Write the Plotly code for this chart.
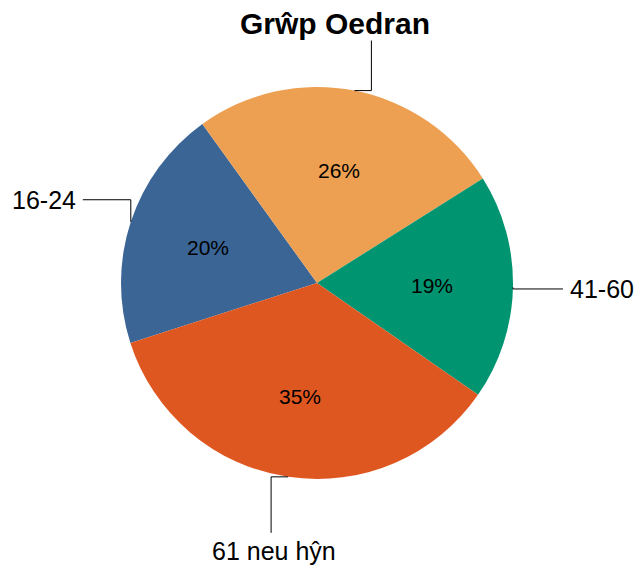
import math
import plotly.graph_objects as go

# ---- data ----
title_text = "Grŵp Oedran"
categories = ["16-24", "25-40", "41-60", "61 neu hŷn"]
values = [20.0, 26.0, 18.6, 35.4]
colors = ["#3A6595", "#EDA052", "#009470", "#DF5720"]
shown_outer_labels = [True, False, True, True]  # the 25-40 label is hidden in the reference

# ---- layout geometry (pixels, page coordinates of the window) ----
OFF = 8  # default page body margin
W, H = 644 - OFF, 569 - OFF
PLOT_L, PLOT_T, PLOT_SIZE = 121, 87, 392  # page coords of plot area
ML, MT = PLOT_L - OFF, PLOT_T - OFF
MR = W - ML - PLOT_SIZE
MB = H - MT - PLOT_SIZE
R = PLOT_SIZE / 2.0
CX = PLOT_L + R
CY = PLOT_T + R
START = 252.2  # start angle of first slice, degrees clockwise from 12 o'clock
FONT = "Liberation Sans, Arial, Helvetica, sans-serif"


def to_paper(px, py):
    # page pixel -> paper coords
    return (px - PLOT_L) / PLOT_SIZE, (PLOT_T + PLOT_SIZE - py) / PLOT_SIZE


fig = go.Figure(
    go.Pie(
        labels=categories,
        values=values,
        sort=False,
        direction="clockwise",
        rotation=START,
        marker=dict(colors=colors, line=dict(width=0)),
        textinfo="none",
        hoverinfo="label+percent",
        showlegend=False,
    )
)

annotations = []
shapes = []
total = sum(values)
acc = 0.0
for cat, v, show in zip(categories, values, shown_outer_labels):
    a0 = START + 360.0 * acc / total
    acc += v
    a1 = START + 360.0 * acc / total
    mid = math.radians((a0 + a1) / 2.0)
    s, c = math.sin(mid), math.cos(mid)

    # percentage label inside slice
    px, py = CX + 0.587 * R * s, CY - 0.587 * R * c
    x, y = to_paper(px, py)
    annotations.append(dict(
        x=x, y=y, xref="paper", yref="paper", text=f"{round(100 * v / total)}%",
        showarrow=False, xanchor="center", yanchor="middle",
        font=dict(family=FONT, size=21, color="black"),
    ))

    # elbow leader line + outer label
    ax, ay = CX + R * s, CY - R * c
    R2 = 1.36 * R
    if abs(s) > 0.7:  # side label: vertical, then horizontal
        ey = CY - R2 * c
        ex = ax
        lx = ax + (50 if s > 0 else -48)
        ly = ey
        pts = [(ax, ay), (ex, ey), (lx, ly)]
        tx = lx + (5 if s > 0 else -5)
        anchor = dict(xanchor="left" if s > 0 else "right", yanchor="middle")
        ty = ly
    else:  # top/bottom label: horizontal, then vertical
        ex = ax + (17 if s > 0 else -17)
        ey = ay
        lx = ex
        ly = ay + (56 if c < 0 else -56)
        pts = [(ax, ay), (ex, ey), (lx, ly)]
        tx = lx + 3
        ty = ly + (2 if c < 0 else -2)
        anchor = dict(xanchor="center", yanchor="top" if c < 0 else "bottom")
    path = ""
    for i, (qx, qy) in enumerate(pts):
        X, Y = to_paper(qx, qy)
        path += ("M" if i == 0 else " L") + f" {X:.5f} {Y:.5f}"
    shapes.append(dict(type="path", path=path, xref="paper", yref="paper",
                       line=dict(color="black", width=1)))
    if show:
        X, Y = to_paper(tx, ty)
        annotations.append(dict(
            x=X, y=Y, xref="paper", yref="paper", text=cat, showarrow=False,
            font=dict(family=FONT, size=25, color="black"), **anchor,
        ))

# title (drawn last, with white box, on top)
tx, ty = to_paper(335, 23)
annotations.append(dict(
    x=tx, y=ty, xref="paper", yref="paper", text=f"<b>{title_text}</b>",
    showarrow=False, xanchor="center", yanchor="middle",
    font=dict(family=FONT, size=30, color="black"),
    bgcolor="white", borderpad=0,
))

fig.update_layout(
    width=W, height=H,
    margin=dict(l=ML, r=MR, t=MT, b=MB, pad=0),
    paper_bgcolor="white", plot_bgcolor="white",
    annotations=annotations, shapes=shapes,
)

fig.write_html("out.html")
